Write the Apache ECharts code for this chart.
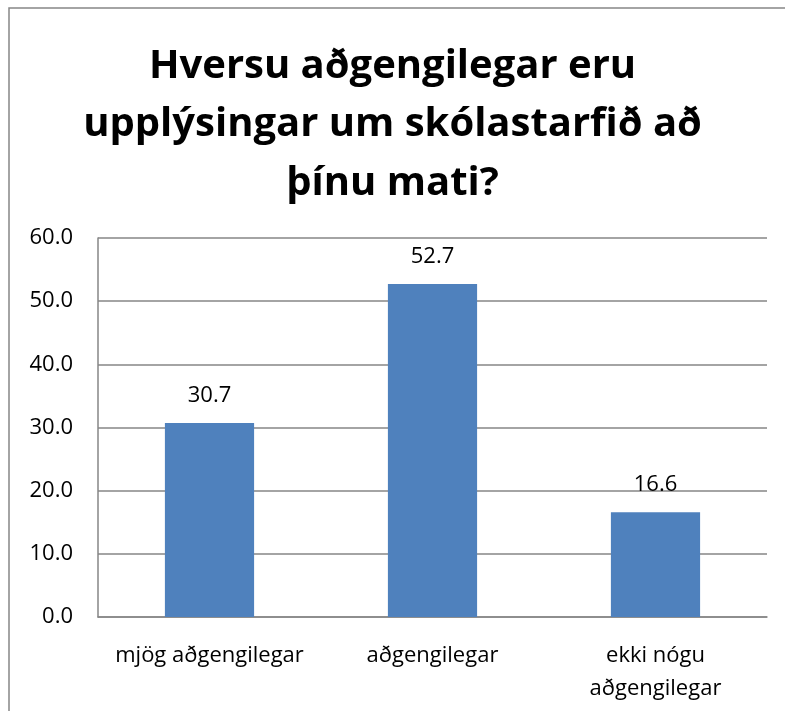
<!DOCTYPE html>
<html>
<head>
<meta charset="utf-8">
<script src="https://cdn.jsdelivr.net/npm/echarts@6/dist/echarts.min.js"></script>
<style>
  html, body { margin: 0; padding: 0; background: #fff; }
  #chart { width: 785px; height: 711px; }
</style>
</head>
<body>
<div id="chart"></div>
<script>
const titleText = 'Hversu aðgengilegar eru\nupplýsingar um skólastarfið að\nþínu mati?';
const categories = ['mjög aðgengilegar', 'aðgengilegar', 'ekki nógu\naðgengilegar'];
const values = [30.7, 52.7, 16.6];

const FONT = 'Open Sans';
const chart = echarts.init(document.getElementById('chart'));

chart.setOption({
  backgroundColor: '#fff',
  animation: false,
  title: {
    text: titleText,
    left: 'center',
    top: 32,
    textStyle: {
      fontFamily: FONT,
      fontWeight: 'bold',
      fontSize: 40,
      lineHeight: 58.5,
      color: '#000'
    }
  },
  graphic: [{
    type: 'rect',
    shape: { x: 9, y: 8, width: 800, height: 720 },
    style: { fill: 'none', stroke: '#868686', lineWidth: 1.5 },
    silent: true
  }],
  grid: { left: 98, right: 18, top: 238, bottom: 94 },
  xAxis: {
    type: 'category',
    data: categories,
    axisLine: { lineStyle: { color: '#868686', width: 1.5 } },
    axisTick: { show: false },
    axisLabel: {
      fontFamily: FONT, fontSize: 22, color: '#000', margin: 22, lineHeight: 33,
      interval: 0
    }
  },
  yAxis: {
    type: 'value',
    min: 0, max: 60, interval: 10,
    axisLine: { show: true, lineStyle: { color: '#868686', width: 1.5 } },
    axisTick: { show: false },
    splitLine: { lineStyle: { color: '#868686', width: 1.5 } },
    axisLabel: {
      fontFamily: FONT, fontSize: 22, color: '#000', margin: 25,
      formatter: v => v.toFixed(1)
    }
  },
  series: [{
    type: 'bar',
    data: values,
    barWidth: '40%',
    itemStyle: { color: '#4F81BD' },
    label: {
      show: true, position: 'top', distance: 16,
      fontFamily: FONT, fontSize: 22, color: '#000',
      formatter: p => p.value.toFixed(1)
    }
  }]
});
</script>
</body>
</html>
